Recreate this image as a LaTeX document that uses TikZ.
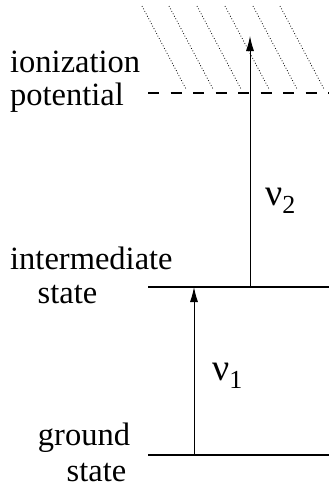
\documentclass[tikz,border=0pt]{standalone}
\usepackage{fontspec}
\setmainfont{Liberation Serif}
\usetikzlibrary{arrows.meta}
\newcommand{\nusub}[1]{\raisebox{-8pt}{\fontsize{26}{28}\selectfont #1}}
\begin{document}
\begin{tikzpicture}[x=1pt,y=-1pt,
  lbl/.style={font=\fontsize{32.5}{36}\selectfont, inner sep=0pt},
  nu/.style={font=\fontsize{38}{40}\selectfont, inner sep=0pt},
  level/.style={line width=1.2pt},
  trans/.style={line width=0.9pt,-{Latex[length=15pt,width=8pt]}},
  hatch/.style={line width=0.8pt, dotted}]
\useasboundingbox (0,0) rectangle (329,490);
% levels
\coordinate (ionL) at (148,93);  \coordinate (ionR) at (329,93);
\coordinate (intL) at (148,287); \coordinate (intR) at (329,287);
\coordinate (gndL) at (148,455); \coordinate (gndR) at (329,455);
\draw[level, dash pattern=on 11pt off 11.5pt] (ionL) -- (ionR);
\draw[level] (intL) -- (intR);
\draw[level] (gndL) -- (gndR);
% hatching
\foreach \x in {142,169,197,225,253,280}{
  \draw[hatch] (\x,6) -- ({\x+44},89);
}
% transitions
\coordinate (a1s) at (194,455); \coordinate (a1e) at (194,287);
\coordinate (a2s) at (250,287); \coordinate (a2e) at (250,36);
\draw[trans] (a1s) -- (a1e);
\draw[trans] (a2s) -- (a2e);
% labels
\node[lbl, anchor=base west] (ion1) at (10,72) {ionization};
\node[lbl, anchor=base west] (ion2) at (10,105) {potential};
\node[lbl, anchor=base west] (int1) at (10,269) {intermediate};
\node[lbl, anchor=base] (int2) at (67.5,303) {state};
\node[lbl, anchor=base] (gnd1) at (84,445) {ground};
\node[lbl, anchor=base] (gnd2) at (96.5,481) {state};
\node[nu, anchor=base west] (nu2) at (265,205) {ν\nusub{2}};
\node[nu, anchor=base west] (nu1) at (212,380) {ν\nusub{1}};
\end{tikzpicture}
\end{document}
